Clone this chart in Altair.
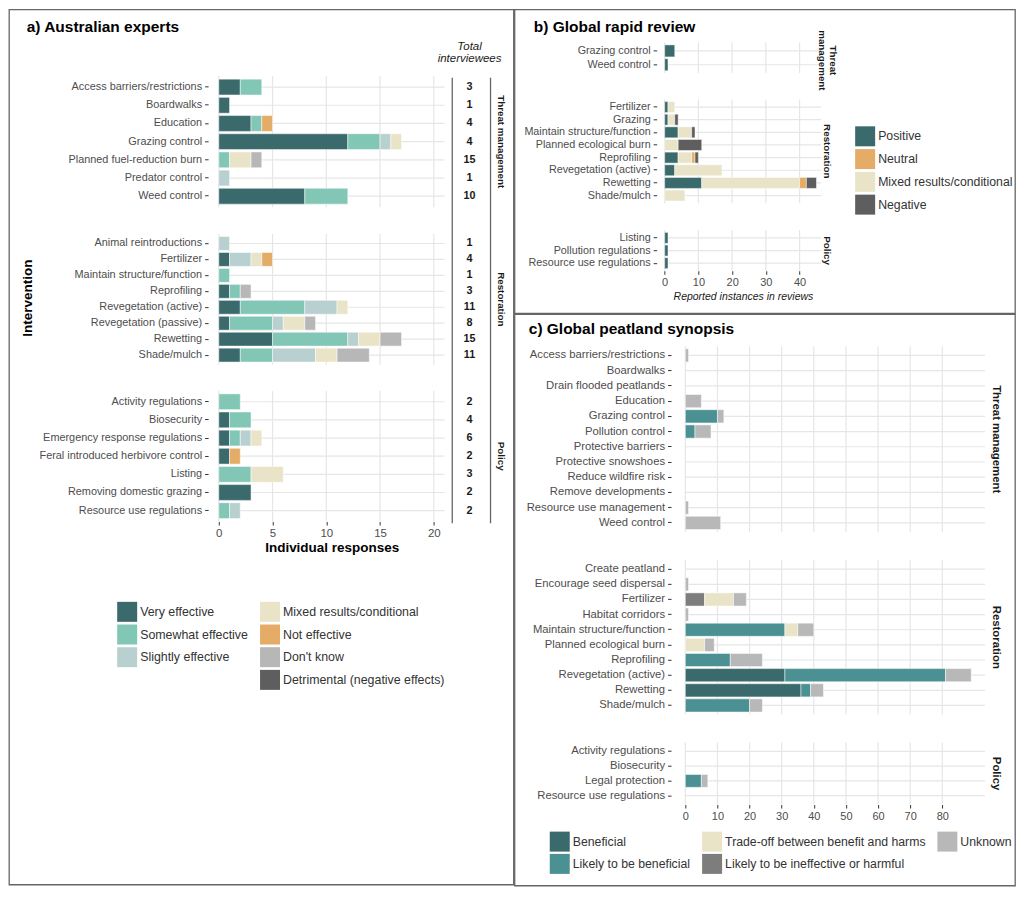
import altair as alt
import pandas as pd

FONT = "Liberation Sans"
GRID = "#e6e6e6"
LAB = "#4d4d4d"
DARK = "#1a1a1a"
P_IN = 0.13
P_OUT = 0.1 + P_IN / 2

# ---------------- a) Australian experts ----------------
A_TM = ["Access barriers/restrictions", "Boardwalks", "Education", "Grazing control",
        "Planned fuel-reduction burn", "Predator control", "Weed control"]
A_RE = ["Animal reintroductions", "Fertilizer", "Maintain structure/function", "Reprofiling",
        "Revegetation (active)", "Revegetation (passive)", "Rewetting", "Shade/mulch"]
A_PO = ["Activity regulations", "Biosecurity", "Emergency response regulations",
        "Feral introduced herbivore control", "Listing", "Removing domestic grazing",
        "Resource use regulations"]
A_LEVELS = ["Very effective", "Somewhat effective", "Slightly effective",
            "Mixed results/conditional", "Not effective", "Don't know",
            "Detrimental (negative effects)"]

A_VERY_TM = [2, 1, 3, 12, 0, 0, 8]
A_SOME_TM = [2, 0, 1, 3, 1, 0, 4]
A_SLIGHT_TM = [0, 0, 0, 1, 0, 1, 0]
A_MIXED_TM = [0, 0, 0, 1, 2, 0, 0]
A_NOTEFF_TM = [0, 0, 1, 0, 0, 0, 0]
A_DK_TM = [0, 0, 0, 0, 1, 0, 0]
A_DET_TM = [0, 0, 0, 0, 0, 0, 0]

A_VERY_RE = [0, 1, 0, 1, 2, 1, 5, 2]
A_SOME_RE = [0, 0, 1, 1, 6, 4, 7, 3]
A_SLIGHT_RE = [1, 2, 0, 0, 3, 1, 1, 4]
A_MIXED_RE = [0, 1, 0, 0, 1, 2, 2, 2]
A_NOTEFF_RE = [0, 1, 0, 0, 0, 0, 0, 0]
A_DK_RE = [0, 0, 0, 1, 0, 1, 2, 3]
A_DET_RE = [0, 0, 0, 0, 0, 0, 0, 0]

A_VERY_PO = [0, 1, 1, 1, 0, 3, 0]
A_SOME_PO = [2, 2, 1, 0, 3, 0, 1]
A_SLIGHT_PO = [0, 0, 1, 0, 0, 0, 1]
A_MIXED_PO = [0, 0, 1, 0, 3, 0, 0]
A_NOTEFF_PO = [0, 0, 0, 1, 0, 0, 0]
A_DK_PO = [0, 0, 0, 0, 0, 0, 0]
A_DET_PO = [0, 0, 0, 0, 0, 0, 0]

A_TOTAL_TM = [3, 1, 4, 4, 15, 1, 10]
A_TOTAL_RE = [1, 4, 1, 3, 11, 8, 15, 11]
A_TOTAL_PO = [2, 4, 6, 2, 3, 2, 2]
A_TICKS = [0, 5, 10, 15, 20]
# legend fills column by column: 3 + (blank) | 4
A_LEG_DOMAIN = ["Very effective", "Somewhat effective", "Slightly effective", " ",
                "Mixed results/conditional", "Not effective", "Don't know",
                "Detrimental (negative effects)"]
A_LEG_COLORS = ["#3a6a6c", "#82c6b5", "#b9d0d0", "#ffffff", "#e9e4c7", "#e4ac66", "#b7b7b7", "#5e5e5e"]

# ---------------- b) Global rapid review ----------------
B_TM = ["Grazing control", "Weed control"]
B_RE = ["Fertilizer", "Grazing", "Maintain structure/function", "Planned ecological burn",
        "Reprofiling", "Revegetation (active)", "Rewetting", "Shade/mulch"]
B_PO = ["Listing", "Pollution regulations", "Resource use regulations"]
B_LEVELS = ["Positive", "Mixed results/conditional", "Neutral", "Negative"]  # stack order
B_POS_TM = [3, 1]
B_MIX_TM = [0, 0]
B_NEU_TM = [0, 0]
B_NEG_TM = [0, 0]
B_POS_RE = [1, 1, 4, 0, 4, 3, 11, 0]
B_MIX_RE = [2, 2, 4, 4, 4, 14, 29, 6]
B_NEU_RE = [0, 0, 0, 0, 1, 0, 2, 0]
B_NEG_RE = [0, 1, 1, 7, 1, 0, 3, 0]
B_POS_PO = [1, 1, 1]
B_MIX_PO = [0, 0, 0]
B_NEU_PO = [0, 0, 0]
B_NEG_PO = [0, 0, 0]
B_LEG = ["Positive", "Neutral", "Mixed results/conditional", "Negative"]
B_LEG_COLORS = ["#3a6a6c", "#e4ac66", "#e9e4c7", "#5e5e5e"]
B_TICKS = [0, 10, 20, 30, 40]

# ---------------- c) Global peatland synopsis ----------------
C_TM = ["Access barriers/restrictions", "Boardwalks", "Drain flooded peatlands", "Education",
        "Grazing control", "Pollution control", "Protective barriers", "Protective snowshoes",
        "Reduce wildfire risk", "Remove developments", "Resource use management", "Weed control"]
C_RE = ["Create peatland", "Encourage seed dispersal", "Fertilizer", "Habitat corridors",
        "Maintain structure/function", "Planned ecological burn", "Reprofiling",
        "Revegetation (active)", "Rewetting", "Shade/mulch"]
C_PO = ["Activity regulations", "Biosecurity", "Legal protection", "Resource use regulations"]
C_LEVELS = ["Beneficial", "Likely to be beneficial", "Likely to be ineffective or harmful",
            "Trade-off between benefit and harms", "Unknown"]  # stack order
C_BEN_TM = [0] * 12
C_LIK_TM = [0, 0, 0, 0, 10, 3, 0, 0, 0, 0, 0, 0]
C_INE_TM = [0] * 12
C_TRA_TM = [0] * 12
C_UNK_TM = [1, 0, 0, 5, 2, 5, 0, 0, 0, 0, 1, 11]
C_BEN_RE = [0, 0, 0, 0, 0, 0, 0, 31, 36, 0]
C_LIK_RE = [0, 0, 0, 0, 31, 0, 14, 50, 3, 20]
C_INE_RE = [0, 0, 6, 0, 0, 0, 0, 0, 0, 0]
C_TRA_RE = [0, 0, 9, 0, 4, 6, 0, 0, 0, 0]
C_UNK_RE = [0, 1, 4, 1, 5, 3, 10, 8, 4, 4]
C_BEN_PO = [0, 0, 0, 0]
C_LIK_PO = [0, 0, 5, 0]
C_INE_PO = [0, 0, 0, 0]
C_TRA_PO = [0, 0, 0, 0]
C_UNK_PO = [0, 0, 2, 0]
C_LEG = ["Beneficial", "Likely to be beneficial", "Trade-off between benefit and harms",
         "Likely to be ineffective or harmful", "Unknown"]
C_LEG_COLORS = ["#3a6a6c", "#4b9194", "#e9e4c7", "#7d7d7d", "#b8b8b8"]
C_TICKS = [0, 10, 20, 30, 40, 50, 60, 70, 80]


def long_table(cats, levels, series):
    rows = []
    for rank, (lev, vals) in enumerate(zip(levels, series)):
        for cat, v in zip(cats, vals):
            if v > 0:
                rows.append({"cat": cat, "level": lev, "value": v, "rank": rank})
    return pd.DataFrame(rows)


def text_layer(txt, x, y, **kw):
    return alt.Chart(pd.DataFrame({"t": [txt]})).mark_text(**kw).encode(
        text="t:N", x=alt.value(x), y=alt.value(y))


def vline(x, y0, y1):
    return alt.Chart(pd.DataFrame({"k": [0]})).mark_rule(color="#666666", strokeWidth=1.3).encode(
        x=alt.value(x), y=alt.value(y0), y2=alt.value(y1))


def build_panel(W, H, xdom, xrng, xticks, xtitle, xtitle_kw, xaxis_y, xlab_size,
                yaxis_x, ylab_size, facets, leg_domain, leg_colors, legend_kw,
                strip_x, strip_size, extras, tot_x=None):
    xs = alt.Scale(domain=xdom, range=xrng, nice=False, zero=False)
    xaxis = alt.Axis(orient="bottom", offset=xaxis_y - H, values=xticks, format="d", grid=False,
                     domain=False, tickSize=3.5, tickColor="#333333", tickWidth=1,
                     labelFontSize=xlab_size, labelColor=LAB, labelPadding=2, labelFlush=False,
                     **xtitle_kw)
    color = alt.Color("level:N", scale=alt.Scale(domain=leg_domain, range=leg_colors),
                      legend=alt.Legend(**legend_kw), title=None)
    layers = []
    for f in facets:
        cats = f["cats"]
        y0, y1 = f["yr"]
        ys = alt.Scale(domain=cats, range=[y0, y1], paddingInner=P_IN, paddingOuter=P_OUT)
        yaxis = alt.Axis(orient="left", offset=-yaxis_x, grid=False, domain=False, tickSize=3.5,
                         tickColor="#333333", tickWidth=1, labelFontSize=ylab_size, labelColor=LAB,
                         labelPadding=3, labelLimit=400)
        yenc = alt.Y("cat:N", scale=ys, axis=yaxis, title=None)
        hdf = pd.DataFrame({"cat": cats, "x0": [xdom[0]] * len(cats), "x1": [xdom[1]] * len(cats)})
        hgrid = alt.Chart(hdf).mark_rule(color=GRID, strokeWidth=1.2).encode(
            y=yenc, x=alt.X("x0:Q", scale=xs, axis=xaxis, title=xtitle), x2="x1:Q")
        vgrid = alt.Chart(pd.DataFrame({"t": xticks})).mark_rule(color=GRID, strokeWidth=1.2).encode(
            x=alt.X("t:Q", scale=xs, axis=xaxis, title=xtitle), y=alt.value(y0), y2=alt.value(y1))
        bars = alt.Chart(f["df"]).mark_bar(stroke="white", strokeWidth=0.5).encode(
            y=yenc,
            x=alt.X("value:Q", stack="zero", scale=xs, axis=xaxis, title=xtitle),
            color=color,
            order=alt.Order("rank:Q"))
        parts = [hgrid, vgrid, bars]
        if "totals" in f:
            tdf = pd.DataFrame({"cat": cats, "n": f["totals"]})
            parts.append(alt.Chart(tdf).mark_text(fontSize=10.8, fontWeight="bold", color=DARK).encode(
                y=yenc, x=alt.value(tot_x), text="n:Q"))
        parts.append(text_layer(f["strip"], f.get("sx", strip_x), f["sy"], angle=90,
                                fontSize=strip_size, fontWeight="bold", color=DARK,
                                lineBreak="\n", lineHeight=strip_size + 1.5))
        layers.append(alt.layer(*parts))
    return alt.layer(*layers, *extras).resolve_scale(y="independent").properties(width=W, height=H)


# ---------------- panel a ----------------
A_W, A_H = 505, 876
a_facets = [
    dict(cats=A_TM, df=long_table(A_TM, A_LEVELS, [A_VERY_TM, A_SOME_TM, A_SLIGHT_TM, A_MIXED_TM,
                                                   A_NOTEFF_TM, A_DK_TM, A_DET_TM]),
         totals=A_TOTAL_TM, yr=(66.8, 197.9), strip="Threat management", sy=132.4),
    dict(cats=A_RE, df=long_table(A_RE, A_LEVELS, [A_VERY_RE, A_SOME_RE, A_SLIGHT_RE, A_MIXED_RE,
                                                   A_NOTEFF_RE, A_DK_RE, A_DET_RE]),
         totals=A_TOTAL_RE, yr=(224.7, 355.6), strip="Restoration", sy=290.2),
    dict(cats=A_PO, df=long_table(A_PO, A_LEVELS, [A_VERY_PO, A_SOME_PO, A_SLIGHT_PO, A_MIXED_PO,
                                                   A_NOTEFF_PO, A_DK_PO, A_DET_PO]),
         totals=A_TOTAL_PO, yr=(381.8, 512.6), strip="Policy", sy=447.2),
]
a_extras = [
    text_layer("a) Australian experts", 17.7, 22.8, align="left", baseline="alphabetic",
               fontSize=15.5, fontWeight="bold", color="#000000"),
    text_layer("Intervention", 19, 289, angle=270, fontSize=13.5, fontWeight="bold", color="#000000"),
    text_layer("Total\ninterviewees", 461, 41, baseline="alphabetic", fontSize=11.5,
               fontStyle="italic", color=DARK, lineBreak="\n", lineHeight=11.5),
    vline(443.7, 68.3, 514.3),
    vline(482, 68.3, 514.3),
]
panel_a = build_panel(
    A_W, A_H, [0, 21], [210, 436], A_TICKS, "Individual responses",
    dict(titleFontSize=13.5, titleFontWeight="bold", titleColor="#000000", titlePadding=2),
    512.6, 11.5, 199.3, 10.9, a_facets, A_LEG_DOMAIN, A_LEG_COLORS,
    dict(orient="none", legendX=108.3, legendY=593, columns=2, symbolType="square", symbolSize=400,
         symbolStrokeWidth=0, labelFontSize=12.4, labelColor="#333333", labelOffset=3,
         rowPadding=2.7, columnPadding=12, padding=0, labelLimit=400),
    492.7, 9.8, a_extras, tot_x=461)

# ---------------- panel b ----------------
B_W, B_H = 501, 304
b_facets = [
    dict(cats=B_TM, df=long_table(B_TM, B_LEVELS, [B_POS_TM, B_MIX_TM, B_NEU_TM, B_NEG_TM]),
         yr=(33.2, 63.7), strip="Threat\nmanagement", sy=51, sx=319),
    dict(cats=B_RE, df=long_table(B_RE, B_LEVELS, [B_POS_RE, B_MIX_RE, B_NEU_RE, B_NEG_RE]),
         yr=(90.1, 193.9), strip="Restoration", sy=142),
    dict(cats=B_PO, df=long_table(B_PO, B_LEVELS, [B_POS_PO, B_MIX_PO, B_NEU_PO, B_NEG_PO]),
         yr=(221.1, 261.6), strip="Policy", sy=241.4),
]
b_extras = [
    text_layer("b) Global rapid review", 19.3, 22.5, align="left", baseline="alphabetic",
               fontSize=15.5, fontWeight="bold", color="#000000"),
]
panel_b = build_panel(
    B_W, B_H, [0, 46.4], [150.3, 307], B_TICKS, "Reported instances in reviews",
    dict(titleFontSize=10.5, titleFontStyle="italic", titleFontWeight="normal", titleColor=DARK,
         titlePadding=4),
    261.6, 11, 142.3, 10.8, b_facets, B_LEG, B_LEG_COLORS,
    dict(orient="none", legendX=341, legendY=117, symbolType="square", symbolSize=400,
         symbolStrokeWidth=0, labelFontSize=12.3, labelColor="#333333", labelOffset=3,
         rowPadding=2.8, padding=0, labelLimit=400),
    313, 9.8, b_extras)

# ---------------- panel c ----------------
C_W, C_H = 501, 572
c_facets = [
    dict(cats=C_TM, df=long_table(C_TM, C_LEVELS, [C_BEN_TM, C_LIK_TM, C_INE_TM, C_TRA_TM, C_UNK_TM]),
         yr=(32.2, 218.1), strip="Threat management", sy=125.2),
    dict(cats=C_RE, df=long_table(C_RE, C_LEVELS, [C_BEN_RE, C_LIK_RE, C_INE_RE, C_TRA_RE, C_UNK_RE]),
         yr=(246.2, 400.8), strip="Restoration", sy=323.5),
    dict(cats=C_PO, df=long_table(C_PO, C_LEVELS, [C_BEN_PO, C_LIK_PO, C_INE_PO, C_TRA_PO, C_UNK_PO]),
         yr=(428.8, 490.9), strip="Policy", sy=459.9),
]
c_extras = [
    text_layer("c) Global peatland synopsis", 14.3, 19.8, align="left", baseline="alphabetic",
               fontSize=15.5, fontWeight="bold", color="#000000"),
]
panel_c = build_panel(
    C_W, C_H, [0, 93.3], [171, 471], C_TICKS, None, {},
    490.9, 11, 156.7, 11.3, c_facets, C_LEG, C_LEG_COLORS,
    dict(orient="none", legendX=35.3, legendY=518, columns=3, symbolType="square", symbolSize=400,
         symbolStrokeWidth=0, labelFontSize=12.3, labelColor="#333333", labelOffset=3,
         rowPadding=2.3, columnPadding=11.5, padding=0, labelLimit=400),
    482, 11.4, c_extras)

right = alt.vconcat(panel_b, panel_c, spacing=-1).resolve_scale(color="independent")
chart = (
    alt.hconcat(panel_a, right, spacing=-1)
    .resolve_scale(color="independent")
    .properties(padding=0)
    .configure(font=FONT)
    .configure_view(stroke="#666666", strokeWidth=1.3)
)

chart.save("out.html", embed_options={"renderer": "svg", "actions": False})
